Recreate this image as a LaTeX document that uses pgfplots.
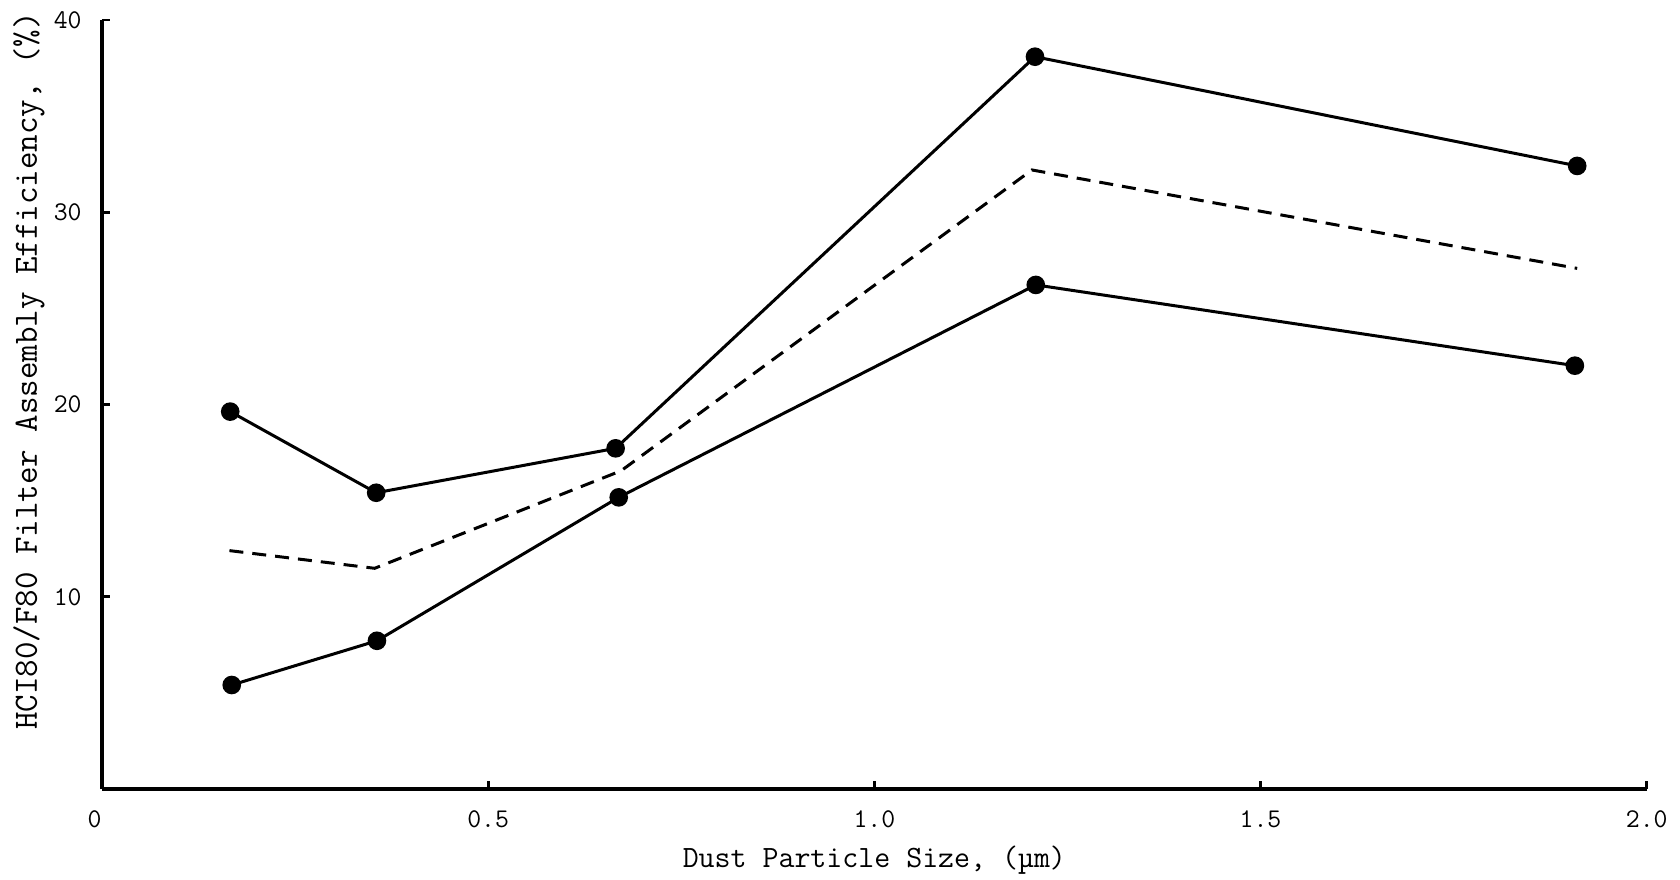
\documentclass[border=0pt]{standalone}
\usepackage{pgfplots}
\pgfplotsset{compat=1.18}
\begin{document}
\begin{tikzpicture}
\begin{axis}[
  scale only axis,
  width=772.35pt, height=384.5pt,
  xmin=0, xmax=2, ymin=0, ymax=40,
  axis x line=bottom, axis y line=left,
  axis line style={-, line width=1.8pt},
  tick align=inside,
  major tick length=4pt,
  every tick/.style={black, line width=1.4pt},
  xtick={0,0.5,1,1.5,2},
  xticklabels={\hspace*{-3.75pt}0\hspace*{3.75pt},0.5,1.0,1.5,2.0},
  ytick={10,20,30,40},
  yticklabels={10,20,30,40},
  tick label style={font=\fontsize{13.5}{16}\selectfont\ttfamily},
  yticklabel style={inner sep=0pt, anchor=east, xshift=-10pt},
  xticklabel style={inner sep=0pt, anchor=north, yshift=-10.5pt},
  xlabel={Dust Particle Size, (µm)},
  ylabel={HCI80/F80 Filter Assembly Efficiency, (\%)},
  xlabel style={font=\fontsize{15.5}{18}\selectfont\ttfamily, at={(axis description cs:0.5,-0.092)}, anchor=center},
  ylabel style={font=\fontsize{17}{20}\selectfont\ttfamily, at={(axis description cs:-0.0473,0.5436)}, anchor=center},
  clip=false,
]
\addplot[black, line width=1.5pt, mark=*, mark size=3.9pt, mark options={solid, fill=black}]
  coordinates {(0.166,19.63)(0.355,15.41)(0.665,17.72)(1.208,38.09)(1.910,32.41)};
\addplot[black, line width=1.5pt, mark=*, mark size=3.9pt, mark options={solid, fill=black}]
  coordinates {(0.168,5.41)(0.356,7.71)(0.669,15.17)(1.209,26.22)(1.907,22.02)};
\addplot[black, line width=1.5pt, dash pattern=on 7pt off 4.5pt]
  coordinates {(0.165,12.40)(0.353,11.48)(0.672,16.55)(1.204,32.20)(1.910,27.08)};
\coordinate (sw) at (rel axis cs:0,0);
\coordinate (ne) at (rel axis cs:1,1);
\end{axis}
\pgfresetboundingbox
\path (sw) ++(-51pt,-45pt) coordinate (bbl);
\path (ne) ++(16.65pt,10pt) coordinate (btr);
\useasboundingbox (bbl) rectangle (btr);
\end{tikzpicture}
\end{document}
